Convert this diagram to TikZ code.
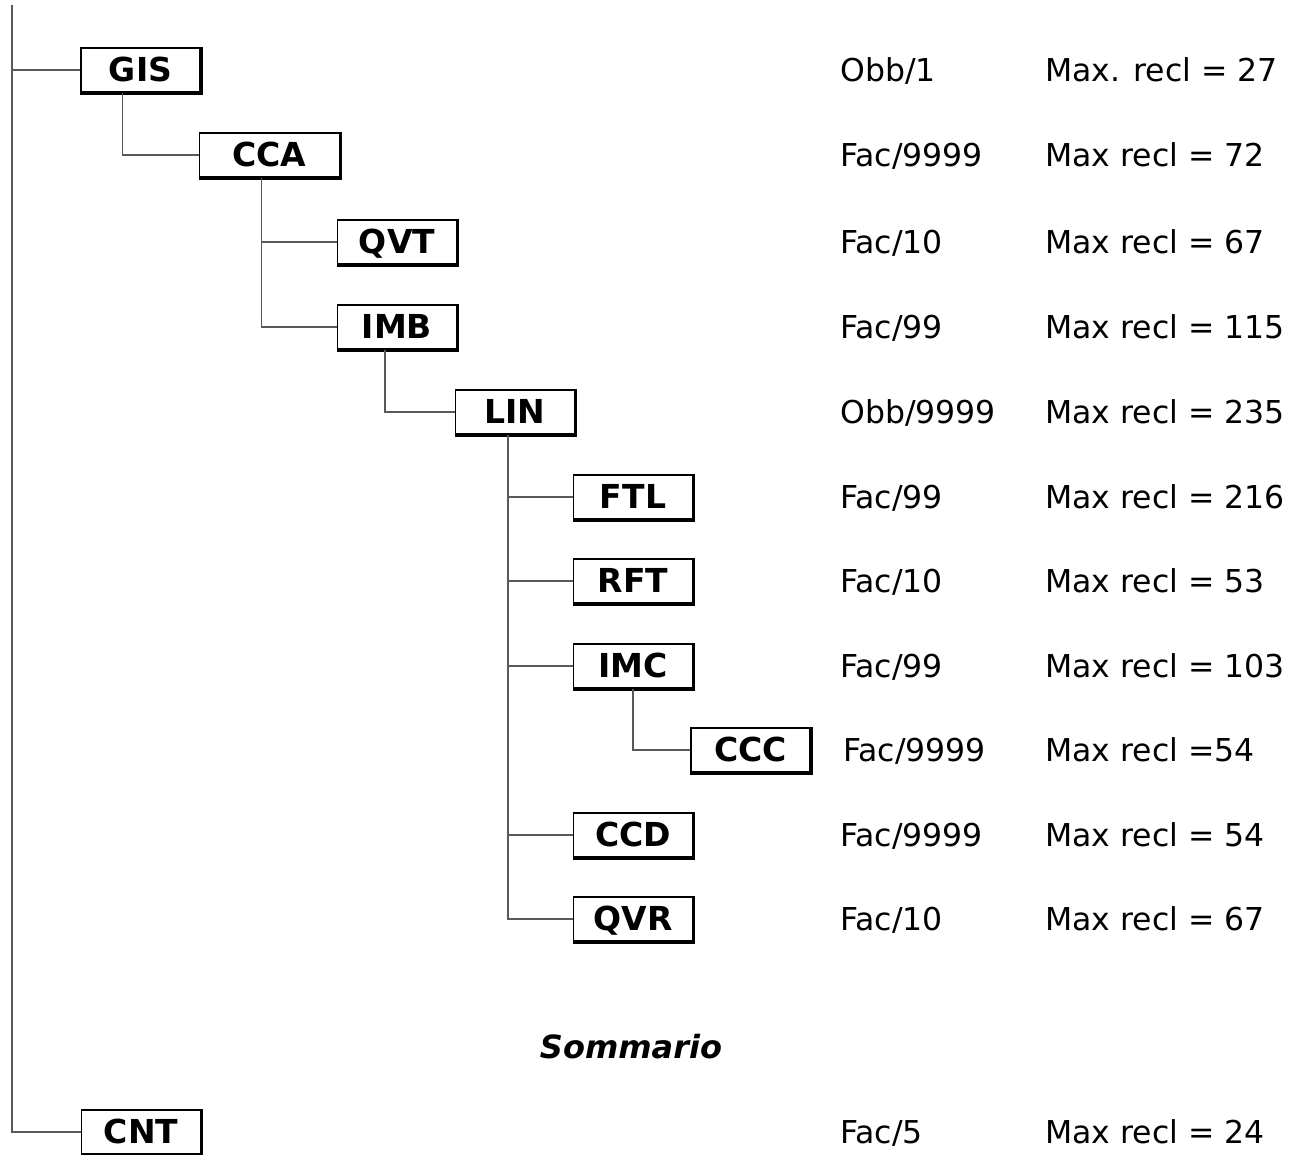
\documentclass[tikz,border=0pt]{standalone}
\usepackage{fontspec}
\setmainfont{DejaVu Sans}
\usetikzlibrary{positioning}
\definecolor{linegray}{rgb}{0.35, 0.35, 0.35}

\begin{document}
\begin{tikzpicture}[x=1pt, y=-1pt,
    rec/.style={draw, line width=1.8pt, minimum width=119pt, minimum height=44pt, inner sep=0pt,
      text height=23pt, text depth=0pt, font=\fontsize{33}{38}\selectfont\bfseries},
    conn/.style={draw=linegray, line width=1.8pt},
    info/.style={anchor=west, inner sep=0pt, text height=23pt, text depth=0pt, font=\fontsize{31.5}{36}\selectfont}]

    \useasboundingbox (0,0) rectangle (1305,1155);

    % record boxes
    \node[rec] (GIS) at (140.5, 70) {GIS};
    \node[rec, minimum width=140pt] (CCA) at (269.5, 155) {CCA};
    \node[rec] (QVT) at (397, 242) {QVT};
    \node[rec] (IMB) at (397, 327) {IMB};
    \node[rec] (LIN) at (515, 412) {LIN};
    \node[rec] (FTL) at (633, 497) {FTL};
    \node[rec] (RFT) at (633, 581) {RFT};
    \node[rec] (IMC) at (633, 666) {IMC};
    \node[rec] (CCC) at (750.5, 750) {CCC};
    \node[rec] (CCD) at (633, 835) {CCD};
    \node[rec] (QVR) at (633, 919) {QVR};
    \node[rec] (CNT) at (141, 1132) {CNT};

    % heavier right and bottom edges
    \foreach \n in {GIS,CCA,QVT,IMB,LIN,FTL,RFT,IMC,CCC,CCD,QVR,CNT}
        \draw[line width=3.4pt] (\n.north east) -- (\n.south east) -- (\n.south west);

    % tree lines
    \coordinate (root) at (12, 5);
    \draw[conn] (root) |- (GIS.west);
    \draw[conn] (root) |- (CNT.west);
    \draw[conn] ([xshift=-18pt]GIS.south) |- (CCA.west);
    \draw[conn] ([xshift=-8pt]CCA.south) |- (QVT.west);
    \draw[conn] ([xshift=-8pt]CCA.south) |- (IMB.west);
    \draw[conn] ([xshift=-12pt]IMB.south) |- (LIN.west);
    \foreach \n in {FTL,RFT,IMC,CCD,QVR}
        \draw[conn] ([xshift=-7pt]LIN.south) |- (\n.west);
    \draw[conn] (IMC.south) |- (CCC.west);

    % occurrences and record lengths
    \coordinate (colA) at (840, 0);
    \coordinate (colB) at (1045, 0);
    \foreach \n/\occ/\len in {GIS/{Obb/1}/{Max. recl = 27}, CCA/{Fac/9999}/{Max recl = 72},
        QVT/{Fac/10}/{Max recl = 67}, IMB/{Fac/99}/{Max recl = 115},
        LIN/{Obb/9999}/{Max recl = 235}, FTL/{Fac/99}/{Max recl = 216},
        RFT/{Fac/10}/{Max recl = 53}, IMC/{Fac/99}/{Max recl = 103},
        CCD/{Fac/9999}/{Max recl = 54}, QVR/{Fac/10}/{Max recl = 67},
        CNT/{Fac/5}/{Max recl = 24}}
    {
        \node[info] (occ\n) at (\n.center -| colA) {\occ};
        \node[info] (len\n) at (\n.center -| colB) {\len};
    }
    \node[info, xshift=3pt] (occCCC) at (CCC.center -| colA) {Fac/9999};
    \node[info] (lenCCC) at (CCC.center -| colB) {Max recl =54};

    \node[font=\fontsize{32}{36}\selectfont\bfseries\itshape] (summary) at (631, 1047) {Sommario};

\end{tikzpicture}
\end{document}
